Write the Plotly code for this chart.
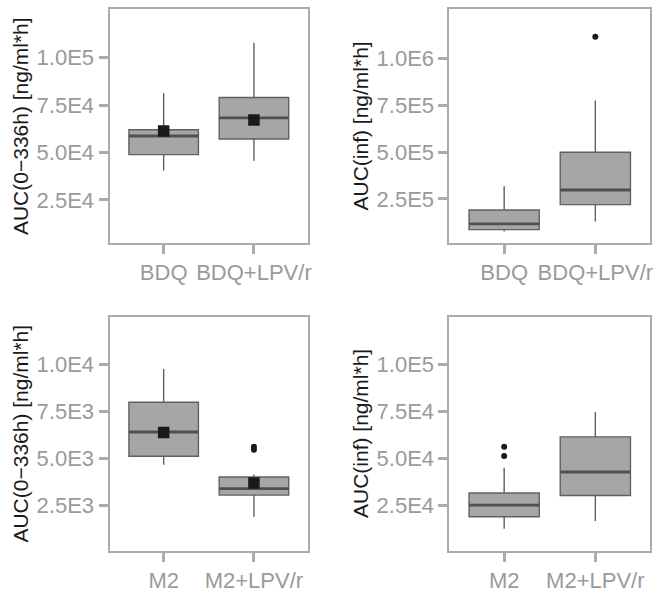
import plotly.graph_objects as go

# ---------------- data ----------------
top_groups = ["BDQ", "BDQ+LPV/r"]
bottom_groups = ["M2", "M2+LPV/r"]

# Panel A: BDQ AUC(0-336h)
a_q1 = [48900, 57100]
a_median = [58700, 68300]
a_q3 = [62000, 79000]
a_lower = [40500, 45700]
a_upper = [81300, 107900]
a_mean = [61300, 67200]

# Panel B: BDQ AUC(inf)
b_q1 = [86000, 219600]
b_median = [116700, 298000]
b_q3 = [191000, 500000]
b_lower = [75700, 129000]
b_upper = [317700, 776600]
b_out_group = [1]          # index into top_groups
b_out_y = [1117000]

# Panel C: M2 AUC(0-336h)
c_q1 = [5115, 3050]
c_median = [6410, 3390]
c_q3 = [7990, 4010]
c_lower = [4660, 1900]
c_upper = [9770, 4150]
c_mean = [6380, 3700]
c_out_group = [1, 1]
c_out_y = [5620, 5470]

# Panel D: M2 AUC(inf)
d_q1 = [19000, 30300]
d_median = [25200, 42800]
d_q3 = [31600, 61500]
d_lower = [12600, 16700]
d_upper = [45100, 74800]
d_out_group = [0, 0]
d_out_y = [56200, 51300]

y_titles = ["AUC(0\u2212336h) [ng/ml*h]", "AUC(inf) [ng/ml*h]",
            "AUC(0\u2212336h) [ng/ml*h]", "AUC(inf) [ng/ml*h]"]

a_tickvals = [25000, 50000, 75000, 100000]
a_ticktext = ["2.5E4", "5.0E4", "7.5E4", "1.0E5"]
b_tickvals = [250000, 500000, 750000, 1000000]
b_ticktext = ["2.5E5", "5.0E5", "7.5E5", "1.0E6"]
c_tickvals = [2500, 5000, 7500, 10000]
c_ticktext = ["2.5E3", "5.0E3", "7.5E3", "1.0E4"]
d_tickvals = [25000, 50000, 75000, 100000]
d_ticktext = ["2.5E4", "5.0E4", "7.5E4", "1.0E5"]

# ---------------- layout helpers ----------------
W, H = 663, 593
FILL = "#a6a6a6"
EDGE = "#606060"
MEDC = "#4f4f4f"
FRAME = "#ababab"
TICKC = "#9a9a9a"
DARK = "#1a1a1a"
BOXW = 0.77

panels = [
    ("", top_groups, a_q1, a_median, a_q3, a_lower, a_upper, a_mean, [], [],
     a_tickvals, a_ticktext, [2400, 125400], (110, 309.5), (9.5, 244.5), 20),
    ("2", top_groups, b_q1, b_median, b_q3, b_lower, b_upper, None, b_out_group, b_out_y,
     b_tickvals, b_ticktext, [15500, 1263000], (451.5, 653), (9.5, 244.5), 362),
    ("3", bottom_groups, c_q1, c_median, c_q3, c_lower, c_upper, c_mean, c_out_group, c_out_y,
     c_tickvals, c_ticktext, [86, 12557], (110, 309.5), (318.7, 554.5), 21),
    ("4", bottom_groups, d_q1, d_median, d_q3, d_lower, d_upper, None, d_out_group, d_out_y,
     d_tickvals, d_ticktext, [860, 125570], (451.5, 653), (318.7, 554.5), 362),
]

fig = go.Figure()
layout = dict(
    width=W, height=H,
    margin=dict(l=0, r=0, t=0, b=0),
    paper_bgcolor="white", plot_bgcolor="white",
    showlegend=False,
    font=dict(family="Liberation Sans, Arial, sans-serif"),
    annotations=[],
)

for i, (sfx, groups, q1, med, q3, lo, hi, mean, og, oy, tv, tt, yr, xd, yd, tx) in enumerate(panels):
    xa = "x" + sfx
    ya = "y" + sfx
    pos = list(range(len(groups)))
    for j in pos:
        fig.add_trace(go.Box(
            x=[j], q1=[q1[j]], median=[med[j]], q3=[q3[j]],
            lowerfence=[lo[j]], upperfence=[hi[j]],
            width=BOXW, whiskerwidth=0, fillcolor=FILL,
            line=dict(color=EDGE, width=1.4),
            xaxis=xa, yaxis=ya, hoverinfo="skip",
        ))
    # thicker median bars, as in the reference
    mx, my = [], []
    for j in pos:
        mx += [j - BOXW / 2, j + BOXW / 2, None]
        my += [med[j], med[j], None]
    fig.add_trace(go.Scatter(
        x=mx, y=my, mode="lines", line=dict(color=MEDC, width=2.8),
        xaxis=xa, yaxis=ya, hoverinfo="skip",
    ))
    if mean is not None:
        fig.add_trace(go.Scatter(
            x=pos, y=mean, mode="markers",
            marker=dict(symbol="square", size=11.5, color=DARK),
            xaxis=xa, yaxis=ya, hoverinfo="skip",
        ))
    if og:
        fig.add_trace(go.Scatter(
            x=og, y=oy, mode="markers",
            marker=dict(symbol="circle", size=6, color=DARK),
            xaxis=xa, yaxis=ya, hoverinfo="skip",
        ))

    xkey = "xaxis" + sfx
    ykey = "yaxis" + sfx
    common = dict(showline=True, mirror=True, linecolor=FRAME, linewidth=2,
                  ticks="outside", ticklen=9, tickwidth=2.5, tickcolor=FRAME,
                  showgrid=False, zeroline=False,
                  tickfont=dict(size=22, color=TICKC))
    layout[xkey] = dict(common, domain=[xd[0] / W, xd[1] / W], anchor=ya,
                        range=[-0.6, 1.6], tickvals=pos, ticktext=groups)
    layout[ykey] = dict(common, domain=[1 - yd[1] / H, 1 - yd[0] / H], anchor=xa,
                        range=yr, tickvals=tv, ticktext=tt)
    layout["annotations"].append(dict(
        text=y_titles[i], xref="paper", yref="paper",
        x=tx / W, y=1 - ((yd[0] + yd[1]) / 2) / H,
        xanchor="center", yanchor="middle", textangle=-90, showarrow=False,
        font=dict(size=21, color=DARK),
    ))

fig.update_layout(**layout)
fig.write_html("out.html")
